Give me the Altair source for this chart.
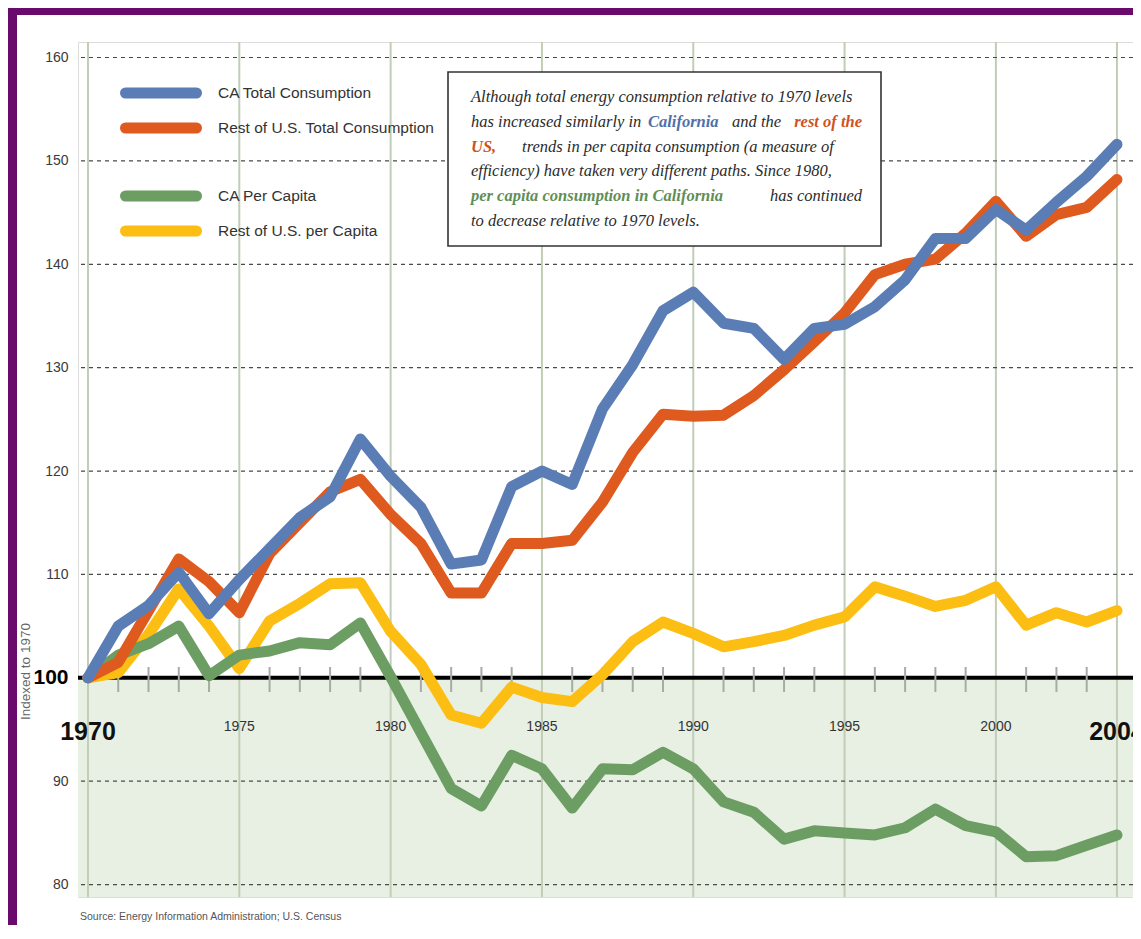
import altair as alt
import pandas as pd

# ---------------- data ----------------
years = list(range(1970, 2005))
ca_total = [100, 105, 107, 110.2, 106.2, 109.5, 112.5, 115.5, 117.5, 123.1,
            119.5, 116.5, 111.0, 111.4, 118.5, 120.0, 118.7, 126.0, 130.3, 135.5,
            137.3, 134.3, 133.8, 130.8, 133.8, 134.2, 135.9, 138.5, 142.5, 142.5,
            145.3, 143.3, 146.0, 148.5, 151.6]
rest_total = [100, 101.5, 106.5, 111.5, 109.3, 106.3, 112.0, 115.0, 118.0, 119.2,
              115.8, 113.0, 108.2, 108.2, 113.0, 113.0, 113.3, 117.0, 121.8, 125.5,
              125.3, 125.4, 127.3, 129.8, 132.5, 135.3, 139.0, 140.0, 140.5, 143.0,
              146.1, 142.7, 144.8, 145.5, 148.2]
ca_per_capita = [100, 102.2, 103.3, 105.0, 100.2, 102.2, 102.6, 103.4, 103.2, 105.3,
                 100.1, 94.7, 89.3, 87.6, 92.5, 91.2, 87.4, 91.2, 91.1, 92.8,
                 91.2, 88.0, 87.0, 84.4, 85.2, 85.0, 84.8, 85.5, 87.3, 85.7,
                 85.1, 82.7, 82.8, 83.8, 84.8]
rest_per_capita = [100, 100.5, 104.2, 108.6, 105.0, 100.9, 105.5, 107.2, 109.1, 109.2,
                   104.5, 101.3, 96.4, 95.6, 99.1, 98.1, 97.7, 100.3, 103.5, 105.4,
                   104.3, 103.0, 103.5, 104.1, 105.1, 105.9, 108.8, 107.9, 106.9, 107.5,
                   108.8, 105.1, 106.3, 105.4, 106.5]

series_names = ["CA Total Consumption", "Rest of U.S. Total Consumption",
                "CA Per Capita", "Rest of U.S. per Capita"]
series_colors = ["#5B7DB5", "#DE5A1F", "#6C9D63", "#FCBE12"]
draw_order = ["Rest of U.S. per Capita", "CA Per Capita",
              "Rest of U.S. Total Consumption", "CA Total Consumption"]

grid_values = [80, 90, 110, 120, 130, 140, 150, 160]
axis_values = [80, 90, 100, 110, 120, 130, 140, 150, 160]
major_years = [1970, 1975, 1980, 1985, 1990, 1995, 2000, 2004]
small_year_labels = ["1975", "1980", "1985", "1990", "1995", "2000"]
big_year_labels = ["1970", "2004"]
minor_years = [y for y in years if y not in major_years]

note_lines = [
    [("Although total energy consumption relative to 1970 levels", "text")],
    [("has increased similarly in", "text"), ("California", "ca"),
     ("and the", "text"), ("rest of the", "us")],
    [("US,", "us"), ("trends in per capita consumption (a measure of", "text")],
    [("efficiency) have taken very different paths.  Since 1980,", "text")],
    [("per capita consumption in California", "cap"), ("has continued", "text")],
    [("to decrease relative to 1970 levels.", "text")],
]
source_text = "Source: Energy Information Administration; U.S. Census"

# ---------------- layout constants ----------------
W, H = 1055, 855
PAD = {"left": 70, "top": 34, "right": 0, "bottom": 28}
SANS = "Liberation Sans, Arial, Helvetica, sans-serif"
SERIF = "Liberation Serif, Times New Roman, serif"
PURPLE = "#690B6C"

rows = []
for name, vals in zip(series_names,
                      [ca_total, rest_total, ca_per_capita, rest_per_capita]):
    for yr, v in zip(years, vals):
        rows.append({"year": yr, "value": v, "series": name})
df = pd.DataFrame(rows)

xscale = alt.Scale(domain=[1969.67, 2004.53], nice=False, zero=False)
yscale = alt.Scale(domain=[78.8, 161.5], nice=False, zero=False)
cscale = alt.Scale(domain=series_names, range=series_colors)

yaxis = alt.Axis(
    values=axis_values, grid=False, domain=False, ticks=False, labelPadding=10,
    labelFont=SANS,
    labelFontSize={"condition": {"test": "datum.value == 100", "value": 21}, "value": 14},
    labelFontWeight={"condition": {"test": "datum.value == 100", "value": "bold"}, "value": "normal"},
    labelColor={"condition": {"test": "datum.value == 100", "value": "#000000"}, "value": "#3A3A3A"},
    title="Indexed to 1970", titleFont=SANS,
    titleFontSize=13.5, titleFontWeight="normal", titleColor="#666666",
    titleX=-53, titleY=629, titleAngle=270, titleAlign="center", titleBaseline="middle",
)


def Y(field="value:Q"):
    return alt.Y(field, scale=yscale, axis=yaxis)


def X(field="year:Q"):
    return alt.X(field, scale=xscale, axis=None)


one = pd.DataFrame({"k": [0]})

# shaded region below 100
shade = alt.Chart(pd.DataFrame({"value": [100]})).mark_rect(color="#E8F0E4").encode(
    y=Y(), y2=alt.value(H), x=alt.value(0), x2=alt.value(W))

vgrid = alt.Chart(pd.DataFrame({"year": major_years})).mark_rule(
    color="#C0CEB7", strokeWidth=2).encode(x=X())

hgrid = alt.Chart(pd.DataFrame({"value": grid_values})).mark_rule(
    color="#4A4A4A", strokeWidth=1.2, strokeDash=[4, 4]).encode(y=Y())

base_line = alt.Chart(pd.DataFrame({"value": [100]})).mark_rule(
    color="#000000", strokeWidth=4).encode(y=Y())

minor_ticks = alt.Chart(pd.DataFrame({"year": minor_years})).mark_rule(
    color="#A8ABA5", strokeWidth=2).encode(x=X(), y=alt.value(625), y2=alt.value(650))

line_layers = []
for name in draw_order:
    line_layers.append(
        alt.Chart(df).transform_filter(alt.datum.series == name).mark_line(
            strokeWidth=11, strokeCap="round", strokeJoin="round").encode(
            x=X(), y=Y(),
            color=alt.Color("series:N", scale=cscale, legend=None)))

small_years = alt.Chart(pd.DataFrame({"year": major_years[1:-1], "label": small_year_labels})).mark_text(
    font=SANS, fontSize=14, color="#333333", baseline="middle", align="center").encode(
    x=X(), y=alt.value(685), text="label:N")

big_years = alt.Chart(pd.DataFrame({"year": [major_years[0], major_years[-1]], "label": big_year_labels})).mark_text(
    font=SANS, fontSize=25, fontWeight="bold", color="#111111", baseline="middle", align="center").encode(
    x=X(), y=alt.value(690), text="label:N")

# legend (custom, mimicking the original)
legend_layers = []
legend_y = [51, 86, 154, 189]
for name, color, ly in zip(series_names, series_colors, legend_y):
    legend_layers.append(alt.Chart(one).mark_rule(
        color=color, strokeWidth=11, strokeCap="round").encode(
        x=alt.value(47.5), x2=alt.value(118.5), y=alt.value(ly)))
    legend_layers.append(alt.Chart(one).mark_text(
        font=SANS, fontSize=15.5, color="#333333", align="left", baseline="middle").encode(
        x=alt.value(140), y=alt.value(ly), text=alt.value(name)))

# annotation box
box = alt.Chart(one).mark_rect(fill="#FFFFFF", stroke="#333333", strokeWidth=1.6).encode(
    x=alt.value(370), x2=alt.value(803), y=alt.value(30), y2=alt.value(204))

style = {"text": ("#2B2B2B", "normal"), "ca": ("#4F71A8", "bold"),
         "us": ("#CF521F", "bold"), "cap": ("#5F8E56", "bold")}
note_baselines = [60, 85, 110, 134, 159, 184]
seg_pos = [
    [(393, "left")],
    [(393, "left"), (570, "left"), (654, "left"), (784, "right")],
    [(393, "left"), (600, "center")],
    [(393, "left")],
    [(393, "left"), (784, "right")],
    [(393, "left")],
]
note_layers = []
for segs, pos, by in zip(note_lines, seg_pos, note_baselines):
    for (txt, kind), (px, al) in zip(segs, pos):
        col, wt = style[kind]
        note_layers.append(alt.Chart(one).mark_text(
            font=SERIF, fontSize=16.5, fontStyle="italic", fontWeight=wt, color=col,
            align=al, baseline="alphabetic").encode(
            x=alt.value(px), y=alt.value(by), text=alt.value(txt)))

source = alt.Chart(one).mark_text(
    font=SANS, fontSize=10.5, color="#555555",
    align="left", baseline="middle").encode(
    x=alt.value(2), y=alt.value(H + 20), text=alt.value(source_text))

# purple frame (left and top bands)
frame_left = alt.Chart(one).mark_rect(color=PURPLE).encode(
    x=alt.value(-PAD["left"]), x2=alt.value(-PAD["left"] + 9),
    y=alt.value(-PAD["top"]), y2=alt.value(H + PAD["bottom"]))
frame_top = alt.Chart(one).mark_rect(color=PURPLE).encode(
    x=alt.value(-PAD["left"]), x2=alt.value(W),
    y=alt.value(-PAD["top"]), y2=alt.value(-PAD["top"] + 7))

chart = alt.layer(
    shade, vgrid, hgrid, base_line, minor_ticks, *line_layers,
    small_years, big_years, *legend_layers, box, *note_layers, source,
    frame_left, frame_top,
).properties(
    width=W, height=H,
    autosize=alt.AutoSizeParams(type="none"),
    padding=PAD,
).configure_view(stroke=None).configure(background="#FFFFFF")

chart.save("out.html", embed_options={"renderer": "svg", "actions": False})
